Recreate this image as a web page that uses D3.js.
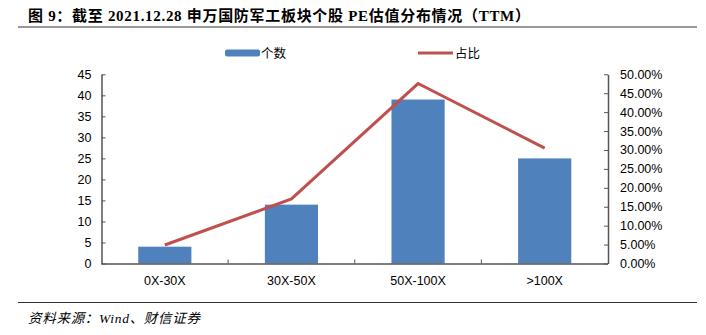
<!DOCTYPE html>
<html><head><meta charset="utf-8">
<script src="https://cdn.jsdelivr.net/npm/d3@7"></script>
<style>body{margin:0;background:#fff}</style>
</head><body>
<svg id="c" width="706" height="335"></svg>
<script>
const categories = ["0X-30X","30X-50X","50X-100X",">100X"];
const counts = [4,14,39,25];
const shares = [4.88,17.07,47.56,30.49];
const leftTicks = [0,5,10,15,20,25,30,35,40,45];
const rightTicks = [0,5,10,15,20,25,30,35,40,45,50];
const titleText = "图 9：截至 2021.12.28 申万国防军工板块个股 PE估值分布情况（TTM）";
const sourceText = "资料来源：Wind、财信证券";
const seriesNames = ["个数","占比"];

const svg = d3.select("#c");
const L = 101.5, R = 608, T = 74.3, B = 263.5;
const x = d3.scaleBand().domain(categories).range([L,R]);
const yL = d3.scaleLinear().domain([0,45]).range([B,T]);
const yR = d3.scaleLinear().domain([0,50]).range([B,T]);
const axisFont = "'Liberation Sans', Arial, sans-serif";

// title
svg.append("text").attr("x",28).attr("y",21)
  .attr("font-family","'Liberation Serif','Noto Sans CJK SC',serif").attr("font-weight","bold")
  .attr("font-size",15).attr("fill","#000")
  .attr("textLength",502).attr("lengthAdjust","spacing").text(titleText);
svg.append("line").attr("x1",18).attr("x2",697).attr("y1",27).attr("y2",27).attr("stroke","#333").attr("stroke-width",1.2);
svg.append("line").attr("x1",18).attr("x2",697).attr("y1",302.5).attr("y2",302.5).attr("stroke","#333").attr("stroke-width",1.2);
svg.append("text").attr("x",28).attr("y",323)
  .attr("font-family","'Liberation Serif','Noto Sans CJK SC',serif").attr("font-style","italic")
  .attr("font-size",13.5).attr("fill","#000")
  .attr("textLength",172).attr("lengthAdjust","spacing").text(sourceText);

// bars
const bw = x.bandwidth()*0.42;
svg.append("g").selectAll("rect").data(categories).join("rect")
  .attr("x",(d)=>x(d)+x.bandwidth()/2-bw/2)
  .attr("y",(d,i)=>yL(counts[i]))
  .attr("width",bw).attr("height",(d,i)=>B-yL(counts[i]))
  .attr("fill","#4F81BD");

// line
const line = d3.line().x((d,i)=>x(categories[i])+x.bandwidth()/2).y(d=>yR(d));
svg.append("path").datum(shares).attr("d",line).attr("fill","none")
  .attr("stroke","#C0504D").attr("stroke-width",3).attr("stroke-linejoin","miter");

// axes
const gl = svg.append("g").attr("transform",`translate(${L},0)`)
  .call(d3.axisLeft(yL).tickValues(leftTicks).tickSize(-4).tickPadding(10).tickSizeOuter(0));
const gr = svg.append("g").attr("transform",`translate(${R},0)`)
  .call(d3.axisRight(yR).tickValues(rightTicks).tickSize(-4).tickPadding(12).tickSizeOuter(0)
    .tickFormat(d=>d.toFixed(2)+"%"));
const gb = svg.append("g").attr("transform",`translate(0,${B})`)
  .call(d3.axisBottom(x).tickSize(0).tickPadding(13).tickSizeOuter(0));
// category boundary ticks
svg.append("g").selectAll("line").data(categories.slice(1)).join("line")
  .attr("x1",d=>x(d)).attr("x2",d=>x(d)).attr("y1",B).attr("y2",B-4).attr("stroke","#555");

[gl,gr,gb].forEach(g=>{
  g.selectAll("path.domain").attr("stroke","#555").attr("stroke-width",1.5);
  g.selectAll(".tick line").attr("stroke","#555");
  g.selectAll("text").attr("font-family",axisFont).attr("font-size",12.5).attr("fill","#000");
});
gb.select("path.domain").attr("d",`M${L},0.5H${R}`);

// legend
svg.append("rect").attr("x",225).attr("y",49.5).attr("width",35).attr("height",7).attr("rx",2).attr("fill","#4F81BD");
svg.append("text").attr("x",261).attr("y",58).attr("font-family","'Noto Sans CJK SC',sans-serif")
  .attr("font-size",12.5).attr("fill","#000").text(seriesNames[0]);
svg.append("line").attr("x1",418).attr("x2",453).attr("y1",53).attr("y2",53).attr("stroke","#C0504D").attr("stroke-width",3);
svg.append("text").attr("x",455).attr("y",58).attr("font-family","'Noto Sans CJK SC',sans-serif")
  .attr("font-size",12.5).attr("fill","#000").text(seriesNames[1]);
</script>
</body></html>
